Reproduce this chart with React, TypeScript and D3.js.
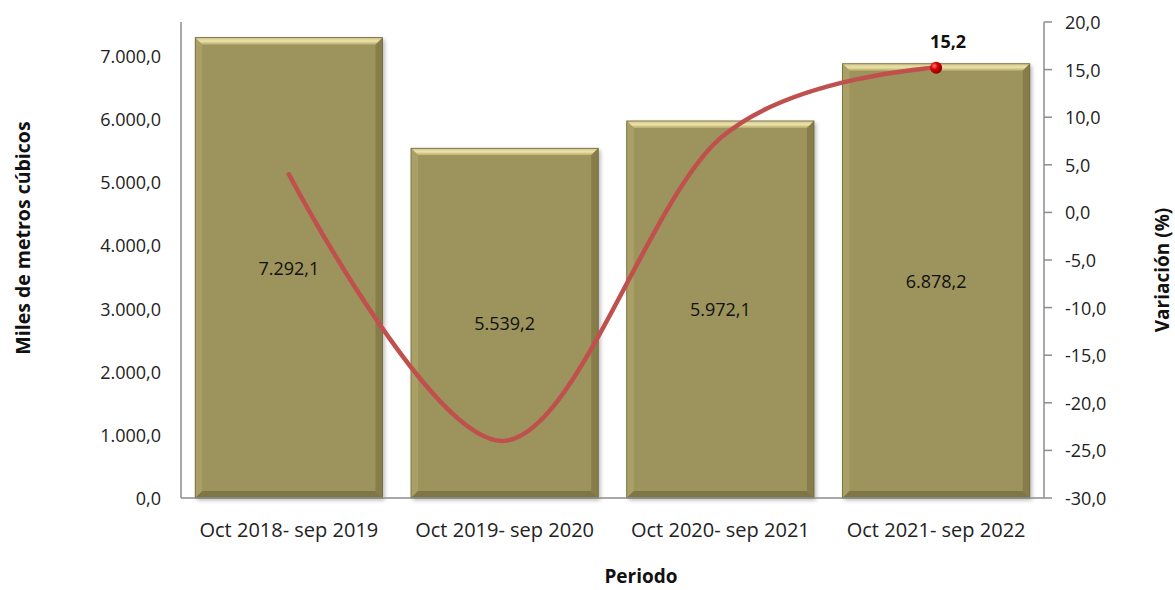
import React from "react";
import * as d3 from "d3";

const categories = ["Oct 2018- sep 2019", "Oct 2019- sep 2020", "Oct 2020- sep 2021", "Oct 2021- sep 2022"];
const volumes = [7292.1, 5539.2, 5972.1, 6878.2];
const variation = [4.0, -24.0, 7.8, 15.2];
const leftTicks = [0, 1000, 2000, 3000, 4000, 5000, 6000, 7000];
const rightTicks = [-30, -25, -20, -15, -10, -5, 0, 5, 10, 15, 20];

const W = 1175, H = 590;
const X0 = 181, X1 = 1044, YT = 22, YB = 498;

const loc = d3.formatLocale({ decimal: ",", thousands: ".", grouping: [3], currency: ["", ""], minus: "-" });
const f1 = loc.format(",.1f");

export default function App() {
  const x = d3.scaleBand<string>().domain(categories).range([X0, X1]).paddingInner(0.132).paddingOuter(0.066);
  const yL = d3.scaleLinear().domain([0, 7500]).range([YB, 24.5]);
  const yR = d3.scaleLinear().domain([-30, 20]).range([YB, YT]);
  const font = "'Open Sans', 'Noto Sans', sans-serif";
  const line = d3.line<number>()
    .x((_, i) => (x(categories[i]) as number) + x.bandwidth() / 2)
    .y((d) => yR(d))
    .curve(d3.curveCardinal.tension(0));
  const bw = x.bandwidth();
  const bev = 7;
  const lastI = variation.length - 1;
  const lx = (x(categories[lastI]) as number) + bw / 2;
  const ly = yR(variation[lastI]);
  return (
    <svg width={W} height={H} style={{ position: "absolute", left: 0, top: 0, background: "#fff" }}>
      <defs>
        <filter id="sh" x="-10%" y="-10%" width="130%" height="130%">
          <feDropShadow dx="2" dy="2" stdDeviation="2" floodColor="#000" floodOpacity="0.3" />
        </filter>
        <linearGradient id="topg" x1="0" y1="0" x2="0" y2="1">
          <stop offset="0" stopColor="#CFC58A" />
          <stop offset="0.5" stopColor="#EDE3A8" />
          <stop offset="1" stopColor="#B5AA6C" />
        </linearGradient>
        <radialGradient id="ball" cx="0.35" cy="0.35" r="0.7">
          <stop offset="0" stopColor="#FF8080" />
          <stop offset="0.4" stopColor="#E00000" />
          <stop offset="1" stopColor="#800000" />
        </radialGradient>
      </defs>
      {/* bars */}
      {volumes.map((v, i) => {
        const bx = x(categories[i]) as number;
        const by = yL(v);
        const bh = YB - by;
        return (
          <g key={i}>
            <rect x={bx} y={by} width={bw} height={bh} fill="#9D935C" filter="url(#sh)" />
            <polygon points={`${bx},${by} ${bx + bw},${by} ${bx + bw - bev},${by + bev} ${bx + bev},${by + bev}`} fill="url(#topg)" />
            <polygon points={`${bx},${by} ${bx + bev},${by + bev} ${bx + bev},${YB - bev} ${bx},${YB}`} fill="#A9A066" />
            <polygon points={`${bx + bw},${by} ${bx + bw - bev},${by + bev} ${bx + bw - bev},${YB - bev} ${bx + bw},${YB}`} fill="#867D4A" />
            <polygon points={`${bx},${YB} ${bx + bev},${YB - bev} ${bx + bw - bev},${YB - bev} ${bx + bw},${YB}`} fill="#7F7645" />
            <rect x={bx} y={by} width={bw} height={bh} fill="none" stroke="#6E673E" strokeWidth={0.8} />
            <text x={bx + bw / 2} y={(by + YB) / 2} textAnchor="middle" dominantBaseline="central" fontFamily={font} fontSize={18} fill="#111">
              {f1(v)}
            </text>
          </g>
        );
      })}
      {/* axes */}
      <line x1={X0} y1={YT} x2={X0} y2={YB} stroke="#8C8C8C" strokeWidth={1.5} />
      <line x1={X0} y1={YB} x2={X1} y2={YB} stroke="#8C8C8C" strokeWidth={1.5} />
      <line x1={X1} y1={YT} x2={X1} y2={YB} stroke="#8C8C8C" strokeWidth={1.5} />
      {leftTicks.map((t) => (
        <text key={t} x={161} y={yL(t)} textAnchor="end" dominantBaseline="central" fontFamily={font} fontSize={18} fill="#222">
          {f1(t)}
        </text>
      ))}
      {rightTicks.map((t) => (
        <g key={t}>
          <line x1={X1} x2={X1 + 8} y1={yR(t)} y2={yR(t)} stroke="#8C8C8C" strokeWidth={1.5} />
          <text x={1065} y={yR(t)} textAnchor="start" dominantBaseline="central" fontFamily={font} fontSize={18} fill="#222">
            {f1(t)}
          </text>
        </g>
      ))}
      {categories.map((c) => (
        <text key={c} x={(x(c) as number) + bw / 2} y={529} textAnchor="middle" dominantBaseline="central" fontFamily={font} fontSize={20} fill="#222">
          {c}
        </text>
      ))}
      {/* line */}
      <path d={line(variation) || ""} fill="none" stroke="#C0504D" strokeWidth={4.5} strokeLinecap="round" />
      <circle cx={lx} cy={ly} r={6} fill="url(#ball)" />
      <text x={lx + 12} y={ly - 20} textAnchor="middle" fontFamily={font} fontSize={18} fontWeight="bold" fill="#111">
        {f1(variation[lastI])}
      </text>
      {/* titles */}
      <text transform={`translate(22,238) rotate(-90)`} textAnchor="middle" dominantBaseline="central" fontFamily={font} fontSize={19.5} fontWeight="bold" fill="#111">
        Miles de metros cúbicos
      </text>
      <text transform={`translate(1162,270) rotate(-90)`} textAnchor="middle" dominantBaseline="central" fontFamily={font} fontSize={19} fontWeight="bold" fill="#111">
        Variación (%)
      </text>
      <text x={641} y={576} textAnchor="middle" dominantBaseline="central" fontFamily={font} fontSize={19} fontWeight="bold" fill="#111">
        Periodo
      </text>
    </svg>
  );
}
